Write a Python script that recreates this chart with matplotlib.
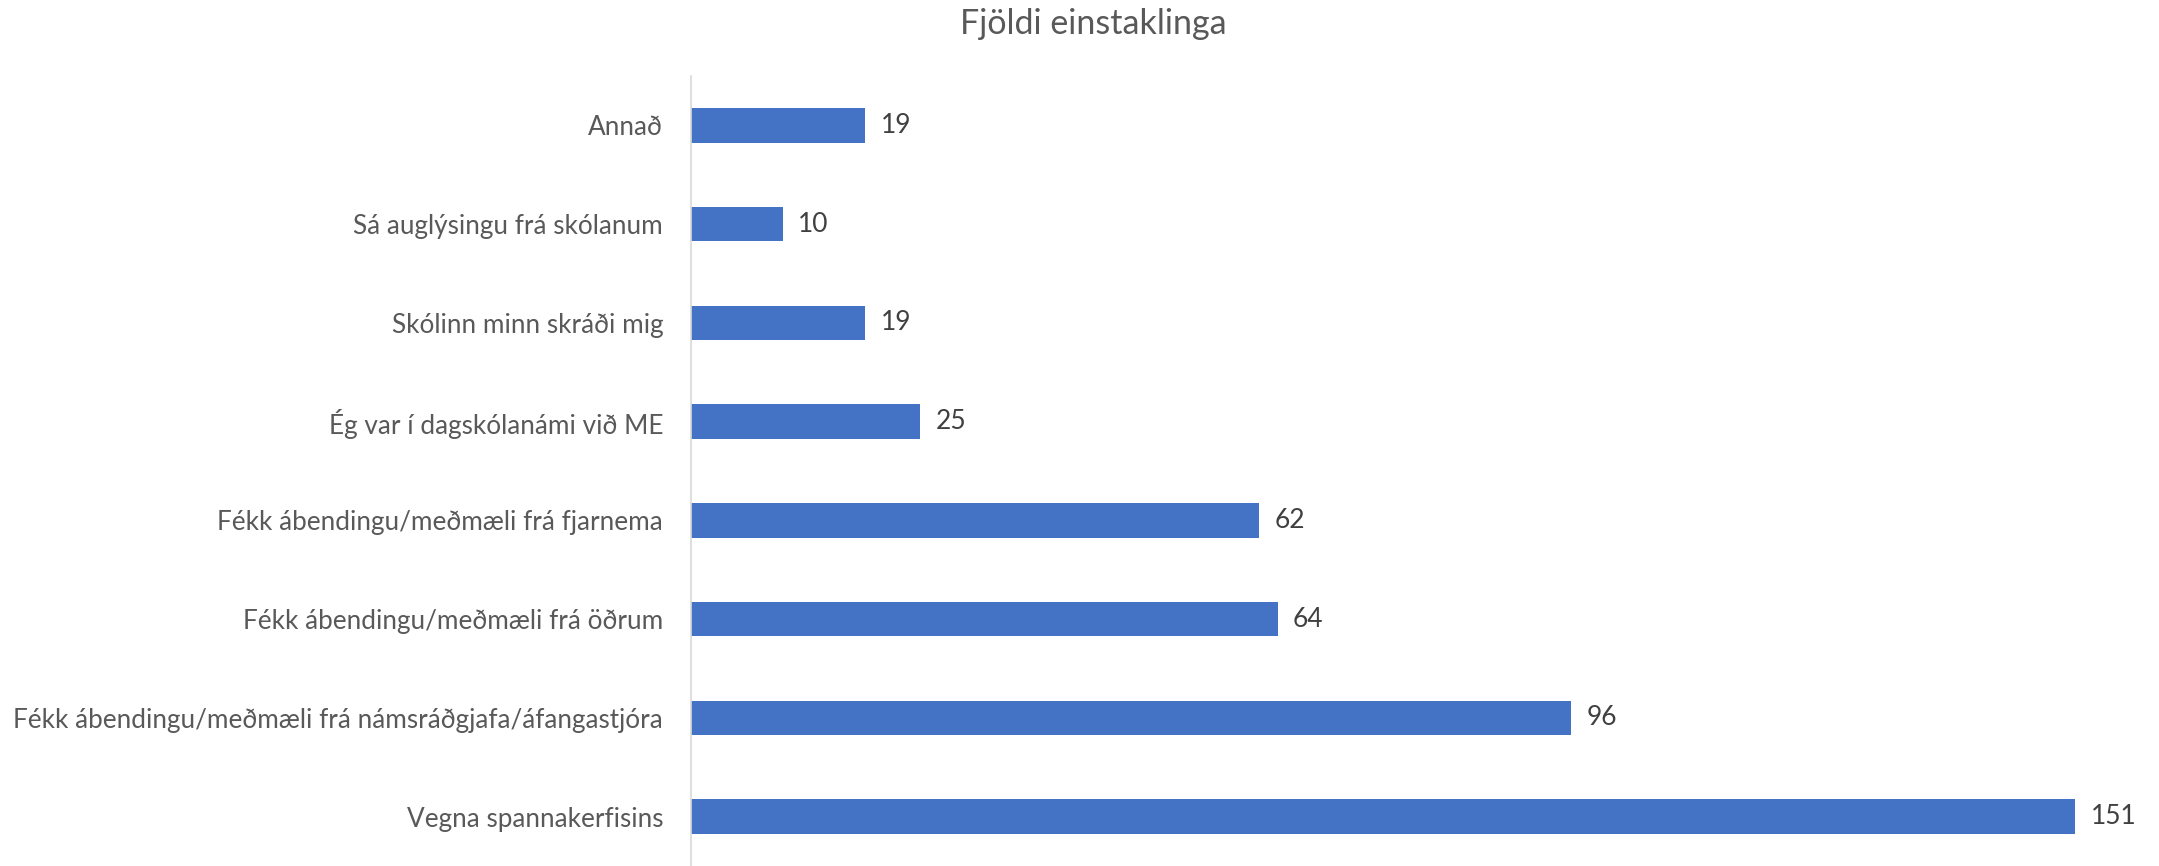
import numpy as np
import matplotlib.pyplot as plt

# categories listed bottom to top
categories = [
    "Vegna spannakerfisins",
    "Fékk ábendingu/meðmæli frá námsráðgjafa/áfangastjóra",
    "Fékk ábendingu/meðmæli frá öðrum",
    "Fékk ábendingu/meðmæli frá fjarnema",
    "Ég var í dagskólanámi við ME",
    "Skólinn minn skráði mig",
    "Sá auglýsingu frá skólanum",
    "Annað",
]
values = [151, 96, 64, 62, 25, 19, 10, 19]
title = "Fjöldi einstaklinga"

plt.rcParams['font.family'] = ['Lato', 'DejaVu Sans']

fig = plt.figure(figsize=(21.59, 8.66), dpi=100)
ax = fig.add_axes([691 / 2159, 0.0, 1467 / 2159, 790 / 866])

y = np.arange(len(categories))
bars = ax.barh(y, values, height=0.35, color="#4472C4")
ax.bar_label(bars, labels=[str(v) for v in values], padding=11,
             fontsize=19, color="#404040")

ax.set_yticks(y)
ax.set_yticklabels(categories, fontsize=18.8, color="#595959")
ax.set_ylim(-0.5, len(categories) - 0.5)
ax.set_xlim(0, 160)
ax.tick_params(axis="y", length=0, pad=20)
ax.set_xticks([])

for side in ["top", "right", "bottom"]:
    ax.spines[side].set_visible(False)
ax.spines["left"].set_color("#D9D9D9")
ax.spines["left"].set_linewidth(1.2)

fig.text(1093 / 2159, 1 - 24 / 866, title, ha="center", va="center",
         fontsize=24.5, color="#595959")

fig.savefig("out.png", dpi=100)
